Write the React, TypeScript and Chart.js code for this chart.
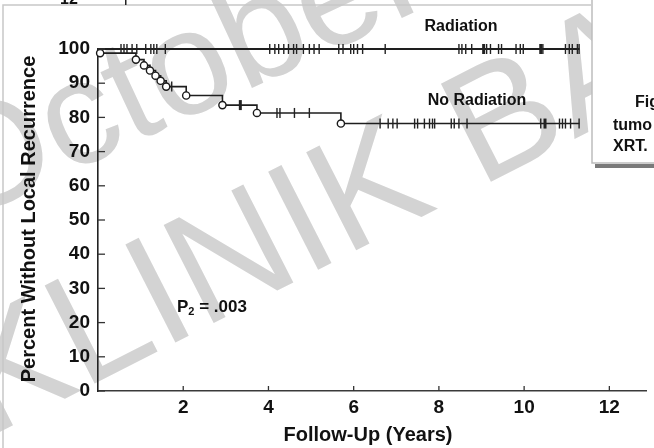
import React, { useEffect, useRef } from "react";
import { Chart, registerables } from "chart.js";

Chart.register(...registerables);

const FONT = "'Liberation Sans', Arial, Helvetica, sans-serif";

// ---- axis ticks ----
const yTickValues = [0, 10, 20, 30, 40, 50, 60, 70, 80, 90, 100];
const xTickValues = [2, 4, 6, 8, 10, 12];
const X_MAX = 12.86;
const FOLLOW_UP_END = 11.3;

// ---- Radiation group (no events) ----
const radiationEventTimes: number[] = [];
const radiationEventLevels: number[] = [];
const radiationCensored = [
  0.54, 0.61, 0.68, 0.8, 0.91, 1.12, 1.24, 1.31, 1.38, 1.58,
  4.03, 4.15, 4.24, 4.36, 4.47, 4.59, 4.66, 4.82, 4.96, 5.07, 5.19,
  5.65, 5.75, 5.93, 6.0, 6.09, 6.21, 6.74,
  8.47, 8.54, 8.63, 8.77, 9.05, 9.12, 9.21, 9.4, 9.47, 9.81, 9.91, 9.98,
  10.39, 10.44, 10.97, 11.06, 11.13, 11.25, 11.29,
];
const radiationBoldCensored = [9.05, 10.39];

// ---- No Radiation group ----
const noRadiationEventTimes = [0.05, 0.89, 1.08, 1.22, 1.35, 1.47, 1.6, 2.07, 2.92, 3.73, 5.7];
const noRadiationEventLevels = [98.8, 96.9, 95.2, 93.7, 92.2, 90.7, 89.0, 86.4, 83.6, 81.3, 78.2];
const noRadiationCensored = [
  1.73, 3.34, 4.2, 4.27, 4.61, 4.96,
  6.62, 6.81, 6.92, 7.02, 7.43, 7.5, 7.66, 7.78, 7.85, 7.9, 8.29, 8.36, 8.47, 8.66,
  10.39, 10.49, 10.83, 10.9, 10.97, 11.09, 11.29,
];
const noRadiationBoldCensored = [3.34, 10.49];

// ---- annotation texts ----
const radiationLabel = "Radiation";
const noRadiationLabel = "No Radiation";
const pValueText = ".003";
const xTitle = "Follow-Up (Years)";
const yTitle = "Percent Without Local Recurrence";
const captionLines = ["Fig", "tumo", "XRT."];
const watermarkTop = "October";
const watermarkBottom = "KLINIK BAL";

function curvePoints(times: number[], levels: number[]) {
  const pts = [{ x: 0, y: 100 }];
  times.forEach((t, i) => pts.push({ x: t, y: levels[i] }));
  pts.push({ x: FOLLOW_UP_END, y: pts[pts.length - 1].y });
  return pts;
}

function levelAt(times: number[], levels: number[], t: number) {
  let v = 100;
  times.forEach((tt, i) => {
    if (tt <= t) v = levels[i];
  });
  return v;
}

const decorPlugin = {
  id: "decor",
  beforeDraw(chart: any) {
    const ctx = chart.ctx as CanvasRenderingContext2D;
    ctx.save();
    ctx.fillStyle = "#ffffff";
    ctx.fillRect(0, 0, chart.width, chart.height);
    // watermark
    ctx.fillStyle = "#d3d3d3";
    ctx.font = `148px ${FONT}`;
    ctx.save();
    ctx.translate(-40, 224);
    ctx.rotate((-25 * Math.PI) / 180);
    ctx.fillText(watermarkTop, 0, 0);
    ctx.restore();
    ctx.font = `160px ${FONT}`;
    ctx.save();
    ctx.translate(-12, 438);
    ctx.rotate((-27 * Math.PI) / 180);
    ctx.fillText(watermarkBottom, 0, 0);
    ctx.restore();
    ctx.restore();
  },
  afterDraw(chart: any) {
    const ctx = chart.ctx as CanvasRenderingContext2D;
    const xs = chart.scales.x;
    const ys = chart.scales.y;
    const left = chart.chartArea.left;
    const bottom = chart.chartArea.bottom;
    ctx.save();
    // inward tick marks
    ctx.strokeStyle = "#333";
    ctx.lineWidth = 1.3;
    yTickValues.forEach((v) => {
      const py = ys.getPixelForValue(v);
      ctx.beginPath();
      ctx.moveTo(left, py);
      ctx.lineTo(left + 7, py);
      ctx.stroke();
    });
    xTickValues.forEach((v) => {
      const px = xs.getPixelForValue(v);
      ctx.beginPath();
      ctx.moveTo(px, bottom);
      ctx.lineTo(px, bottom - 5);
      ctx.stroke();
    });

    ctx.fillStyle = "#111";
    ctx.textBaseline = "middle";
    // curve labels
    ctx.font = `bold 16px ${FONT}`;
    ctx.textAlign = "center";
    ctx.fillText(radiationLabel, 461, 27);
    ctx.fillText(noRadiationLabel, 477, 101);

    // P value
    ctx.textAlign = "left";
    ctx.font = `bold 17px ${FONT}`;
    ctx.fillText("P", 177, 307);
    const pw = ctx.measureText("P").width;
    ctx.font = `bold 11px ${FONT}`;
    ctx.fillText("2", 177 + pw, 312);
    const sw = ctx.measureText("2").width;
    ctx.font = `bold 17px ${FONT}`;
    ctx.fillText(" = " + pValueText, 177 + pw + sw, 307);

    // axis titles
    ctx.font = `bold 20px ${FONT}`;
    ctx.textAlign = "center";
    ctx.fillText(xTitle, 368, 435);
    ctx.save();
    ctx.translate(29, 219);
    ctx.rotate(-Math.PI / 2);
    ctx.fillText(yTitle, 0, 0);
    ctx.restore();

    // page frame remnants
    ctx.strokeStyle = "#c8c8c8";
    ctx.lineWidth = 1.5;
    ctx.beginPath();
    ctx.moveTo(3, 448);
    ctx.lineTo(3, 5);
    ctx.lineTo(591, 5);
    ctx.stroke();
    ctx.fillStyle = "#111";
    ctx.font = `bold 16px ${FONT}`;
    ctx.textBaseline = "alphabetic";
    ctx.textAlign = "left";
    ctx.fillText("12", 60, 4);
    ctx.fillStyle = "#222";
    ctx.fillRect(125, 0, 1.5, 5);

    // caption box
    ctx.fillStyle = "#ffffff";
    ctx.fillRect(592, 0, 62, 163);
    ctx.strokeStyle = "#bdbdbd";
    ctx.beginPath();
    ctx.moveTo(592, 0);
    ctx.lineTo(592, 163);
    ctx.lineTo(654, 163);
    ctx.stroke();
    ctx.fillStyle = "#7a7a7a";
    ctx.fillRect(595, 164, 59, 4);
    ctx.fillStyle = "#111";
    ctx.font = `bold 16px ${FONT}`;
    ctx.textBaseline = "middle";
    ctx.fillText(captionLines[0], 635, 103);
    ctx.fillText(captionLines[1], 613, 126);
    ctx.fillText(captionLines[2], 613, 147);
    ctx.restore();
  },
};

export default function App() {
  const ref = useRef<HTMLCanvasElement | null>(null);

  useEffect(() => {
    document.body.style.margin = "0";
    const canvas = ref.current;
    if (!canvas) return;

    const radCurve = curvePoints(radiationEventTimes, radiationEventLevels);
    const noRadCurve = curvePoints(noRadiationEventTimes, noRadiationEventLevels);
    const circles = noRadiationEventTimes.map((t, i) => ({ x: t, y: noRadiationEventLevels[i] }));
    const radCens = radiationCensored.map((t) => ({
      x: t,
      y: levelAt(radiationEventTimes, radiationEventLevels, t),
    }));
    const noRadCens = noRadiationCensored.map((t) => ({
      x: t,
      y: levelAt(noRadiationEventTimes, noRadiationEventLevels, t),
    }));

    const chart = new Chart(canvas, {
      type: "scatter",
      data: {
        datasets: [
          {
            label: "No Radiation events",
            data: circles,
            pointStyle: "circle",
            pointRadius: 3.6,
            pointBackgroundColor: "#ffffff",
            pointBorderColor: "#1a1a1a",
            pointBorderWidth: 1.4,
            showLine: false,
            order: 0,
          },
          {
            label: "Radiation censored",
            data: radCens,
            pointStyle: "line",
            rotation: 90,
            pointRadius: 5,
            pointBorderColor: "#222",
            pointBorderWidth: radiationCensored.map((t) =>
              radiationBoldCensored.includes(t) ? 3 : 1.4
            ),
            showLine: false,
            order: 1,
          },
          {
            label: "No Radiation censored",
            data: noRadCens,
            pointStyle: "line",
            rotation: 90,
            pointRadius: 5,
            pointBorderColor: "#222",
            pointBorderWidth: noRadiationCensored.map((t) =>
              noRadiationBoldCensored.includes(t) ? 3 : 1.4
            ),
            showLine: false,
            order: 1,
          },
          {
            label: radiationLabel,
            data: radCurve,
            showLine: true,
            stepped: true,
            borderColor: "#1e1e1e",
            borderWidth: 2,
            pointRadius: 0,
            order: 2,
          },
          {
            label: noRadiationLabel,
            data: noRadCurve,
            showLine: true,
            stepped: true,
            borderColor: "#1e1e1e",
            borderWidth: 1.6,
            pointRadius: 0,
            order: 2,
          },
        ],
      },
      options: {
        responsive: false,
        animation: false,
        events: [],
        clip: false,
        layout: { padding: { top: 49, left: 0, right: 0, bottom: 0 } },
        plugins: {
          legend: { display: false },
          tooltip: { enabled: false },
          title: { display: false },
        },
        scales: {
          x: {
            type: "linear",
            min: 0,
            max: X_MAX,
            afterFit: (s: any) => {
              s.height = 57;
            },
            afterBuildTicks: (s: any) => {
              s.ticks = xTickValues.map((v) => ({ value: v }));
            },
            grid: { display: false, drawTicks: false },
            border: { display: true, color: "#3a3a3a", width: 1.5 },
            ticks: {
              color: "#111",
              font: { family: FONT, size: 19, weight: "bold" },
              padding: 5,
              maxRotation: 0,
              autoSkip: false,
            },
          },
          y: {
            type: "linear",
            min: 0,
            max: 100,
            afterFit: (s: any) => {
              s.width = 98;
            },
            afterBuildTicks: (s: any) => {
              s.ticks = yTickValues.map((v) => ({ value: v }));
            },
            grid: { display: false, drawTicks: false },
            border: { display: true, color: "#222", width: 1.6 },
            ticks: {
              color: "#111",
              font: { family: FONT, size: 19, weight: "bold" },
              padding: 8,
              autoSkip: false,
            },
          },
        },
      },
      plugins: [decorPlugin],
    } as any);

    return () => chart.destroy();
  }, []);

  return (
    <div style={{ width: 654, height: 448, position: "relative" }}>
      <canvas ref={ref} width={654} height={448} style={{ display: "block" }} />
    </div>
  );
}
